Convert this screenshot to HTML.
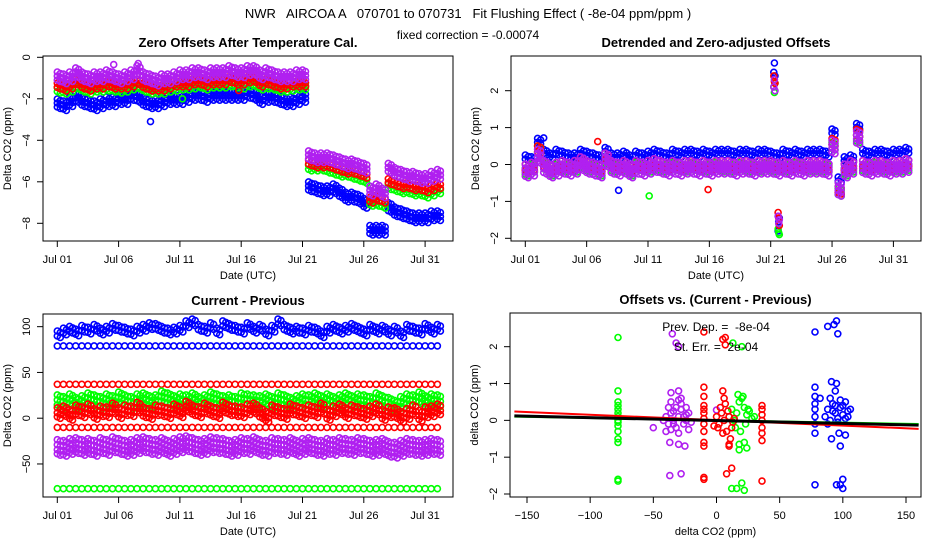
<!DOCTYPE html>
<html><head><meta charset="utf-8"><style>
body{margin:0;background:#fff;}
svg text{font-family:"Liberation Sans",Arial,sans-serif;fill:#000;white-space:pre;}
</style></head><body>
<svg id="chart" width="936" height="540" viewBox="0 0 936 540" xmlns="http://www.w3.org/2000/svg">
<rect width="936" height="540" fill="#fff"/>
<text x="468" y="18" font-size="13" text-anchor="middle" xml:space="preserve">NWR   AIRCOA A   070701 to 070731   Fit Flushing Effect ( -8e-04 ppm/ppm )</text>
<text x="468" y="39" font-size="12" text-anchor="middle">fixed correction = -0.00074</text>
</svg>
<script>
const p1Purple=[-1.0,-1.1,-1.0,-0.8,-1.0,-1.1,-1.0,-1.0,-0.9,-1.0,-1.1,-1.0,-0.9,-0.7,-1.0,-1.1,-1.2,-1.1,-1.1,-1.0,-0.9,-0.9,-0.8,-0.8,-0.9,-0.8,-0.8,-0.8,-0.7,-0.8,-0.8,-0.7,-0.7,-0.9,-0.8,-0.9,-1.0,-1.0,-1.0,-0.9,-0.9,-4.8,-4.9,-4.9,-4.9,-5.0,-5.1,-5.2,-5.2,-5.3,-5.4,-6.5,-6.4,-6.6,-5.4,-5.6,-5.7,-5.8,-5.8,-5.9,-5.9,-5.8,-5.7];
const p1Red=[-1.4,-1.5,-1.4,-1.2,-1.4,-1.5,-1.4,-1.4,-1.3,-1.4,-1.4,-1.4,-1.3,-1.2,-1.4,-1.5,-1.5,-1.5,-1.4,-1.3,-1.3,-1.3,-1.2,-1.2,-1.3,-1.2,-1.2,-1.2,-1.1,-1.2,-1.2,-1.1,-1.1,-1.3,-1.2,-1.3,-1.4,-1.4,-1.3,-1.3,-1.3,-5.1,-5.2,-5.2,-5.2,-5.3,-5.4,-5.5,-5.5,-5.6,-5.7,-6.9,-6.8,-6.9,-6.0,-6.1,-6.2,-6.2,-6.3,-6.3,-6.4,-6.3,-6.2];
const p1Green=[-1.55,-1.6,-1.5,-1.35,-1.5,-1.6,-1.5,-1.5,-1.45,-1.5,-1.55,-1.5,-1.4,-1.35,-1.5,-1.6,-1.6,-1.6,-1.5,-1.45,-1.4,-1.4,-1.35,-1.3,-1.4,-1.3,-1.3,-1.3,-1.25,-1.3,-1.35,-1.25,-1.25,-1.4,-1.35,-1.4,-1.5,-1.5,-1.45,-1.4,-1.4,-5.3,-5.3,-5.3,-5.4,-5.5,-5.6,-5.6,-5.7,-5.8,-5.9,-7.0,-7.0,-7.1,-6.2,-6.3,-6.4,-6.4,-6.5,-6.5,-6.6,-6.5,-6.4];
const p1Blue=[-2.2,-2.3,-2.1,-1.9,-2.1,-2.2,-2.3,-2.2,-2.1,-2.1,-2.0,-2.0,-1.8,-1.9,-2.1,-2.2,-2.2,-2.1,-2.0,-2.0,-2.0,-1.9,-1.8,-1.8,-1.9,-1.8,-1.8,-1.8,-1.8,-1.8,-1.8,-1.7,-1.8,-2.0,-1.9,-1.9,-2.0,-2.1,-2.1,-2.0,-1.9,-6.2,-6.3,-6.4,-6.4,-6.3,-6.5,-6.7,-6.7,-6.8,-7.0,-8.3,-8.3,-8.3,-7.2,-7.4,-7.5,-7.6,-7.7,-7.7,-7.7,-7.6,-7.6];
const p1OutT=[7.6,4.6,6.6,10.2,14.8];
const p1OutV=[-3.1,-0.35,-0.3,-2.0,-1.6];
const p1OutC=["blue","purple","purple","green","red"];
const p2Purple=[-0.1,-0.05,0.3,0.0,-0.1,-0.05,0.0,-0.05,0.0,0.1,0.0,-0.05,-0.1,0.2,0.0,-0.05,0.0,-0.1,0.0,-0.05,0.0,0.05,0.0,-0.05,0.0,-0.05,0.0,0.0,-0.05,0.0,-0.05,0.0,0.0,0.0,-0.05,0.0,0.0,-0.05,0.0,0.0,0.0,-0.05,0.0,-0.05,0.0,-0.05,0.0,0.0,0.0,-0.05,0.55,-0.6,-0.1,0.0,0.8,0.0,-0.05,0.0,0.0,-0.05,0.0,0.0,0.05];
const p2Red=[-0.05,0.0,0.45,0.05,-0.05,0.0,0.05,0.0,0.05,0.15,0.05,0.0,-0.05,0.25,0.05,0.0,0.05,-0.05,0.05,0.0,0.05,0.1,0.05,0.0,0.05,0.0,0.05,0.05,0.0,0.05,0.0,0.05,0.05,0.05,0.0,0.05,0.05,0.0,0.05,0.05,0.05,0.0,0.05,0.0,0.05,0.0,0.05,0.05,0.05,0.0,0.65,-0.65,-0.05,0.05,0.9,0.05,0.0,0.05,0.05,0.0,0.05,0.05,0.1];
const p2Green=[-0.1,0.0,0.5,0.05,-0.1,0.0,0.0,0.0,0.0,0.1,0.0,0.0,-0.1,0.2,0.0,0.0,0.0,-0.1,0.05,0.0,0.0,0.05,0.0,0.0,0.05,0.0,0.0,0.05,0.0,0.0,0.0,0.05,0.0,0.0,0.0,0.05,0.0,0.0,0.0,0.05,0.0,0.0,0.0,0.0,0.05,0.0,0.0,0.0,0.0,0.0,0.6,-0.65,-0.1,0.0,0.8,0.0,0.0,0.05,0.0,0.0,0.0,0.0,0.05];
const p2Blue=[0.15,0.1,0.6,0.3,0.2,0.3,0.25,0.2,0.2,0.3,0.25,0.2,0.15,0.35,0.2,0.2,0.25,0.15,0.25,0.2,0.25,0.3,0.25,0.2,0.3,0.25,0.3,0.3,0.25,0.3,0.25,0.3,0.3,0.3,0.25,0.3,0.3,0.25,0.3,0.3,0.25,0.2,0.3,0.25,0.3,0.25,0.3,0.3,0.3,0.25,0.85,-0.45,0.1,0.15,1.0,0.3,0.25,0.3,0.3,0.25,0.3,0.3,0.35];
const p2SpikeT=[20.25,20.3,20.35,20.6,20.65,20.7];
const p2SpikePurple=[2.1,2.3,2.0,-1.4,-1.6,-1.5];
const p2SpikeRed=[2.4,2.25,2.2,-1.3,-1.45,-1.65];
const p2SpikeGreen=[2.1,1.95,2.2,-1.75,-1.85,-1.9];
const p2SpikeBlue=[2.5,2.75,2.4,-1.8,-1.55,-1.45];
const p2OutT=[7.6,10.1,14.9,5.9,1.5];
const p2OutV=[-0.7,-0.85,-0.68,0.62,0.72];
const p2OutC=["blue","green","red","red","blue"];
const p3BlueHi=[92,95,97,94,98,96,99,95,97,100,98,96,94,97,99,101,100,97,95,96,98,103,105,99,97,101,95,103,100,98,96,101,97,99,94,98,105,99,96,97,95,98,96,92,97,99,96,98,100,97,94,99,96,98,94,97,92,99,97,95,100,96,99];
const p3Green=[20,18,21,17,19,22,20,18,21,19,23,20,18,21,22,19,20,24,22,19,21,20,22,18,20,23,21,19,20,18,22,21,20,19,21,18,22,20,17,19,21,20,22,19,21,18,20,22,19,21,20,18,22,19,17,14,18,21,20,23,19,21,20];
const p3Red=[7,9,5,10,8,11,6,9,8,12,7,10,9,13,8,6,10,9,7,11,8,14,10,8,12,9,7,13,10,9,8,11,12,7,3,10,8,6,11,9,7,10,8,12,5,9,11,7,10,8,6,9,11,5,8,7,3,6,10,4,8,9,11];
const p3Purple=[-30,-31,-29,-28,-30,-29,-31,-28,-30,-27,-29,-31,-30,-28,-27,-29,-30,-28,-31,-29,-27,-26,-28,-30,-29,-27,-28,-29,-31,-30,-28,-29,-27,-30,-31,-28,-29,-30,-28,-31,-29,-28,-30,-31,-29,-30,-28,-29,-30,-28,-29,-31,-30,-29,-32,-33,-31,-29,-30,-31,-30,-29,-30];
const p3RowLevels=[79,37,-10,-77];
const p3RowColors=["blue","red","red","green"];
const p4GreenX=[-78,-78,-78,-78,-78,-78,-78,-78,-78,-78,-78,-78,-78,-78,-78,10,12,14,16,18,20,22,24,26,28,30,15,19,23,17,21,25,13,20,22,18,24,12,16,20,22,18];
const p4GreenY=[-0.6,-0.5,-0.3,-0.15,0,0.1,0.2,0.3,0.4,0.5,0.8,2.25,-1.6,-1.65,-0.05,0.1,0.3,0.0,0.2,0.5,0.6,0.35,0.15,0.25,0.05,0.1,-0.2,-0.3,-0.1,0.7,0.65,0.3,2.1,2.0,-0.6,-0.8,-0.75,-1.85,-1.85,-1.7,-1.9,-0.65];
const p4PurpleX=[-42,-40,-38,-36,-34,-32,-30,-28,-26,-24,-22,-20,-40,-36,-32,-28,-24,-38,-34,-30,-26,-22,-36,-30,-28,-24,-34,-36,-30,-35,-32,-30,-37,-30,-25,-37,-28,-50,0];
const p4PurpleY=[0.0,0.1,-0.1,0.2,0.0,-0.2,0.1,0.3,-0.1,0.0,0.2,-0.05,-0.3,-0.25,0.35,0.45,0.15,0.35,0.25,0.55,0.1,-0.25,0.5,-0.35,0.6,0.35,-0.1,0.75,0.8,2.35,2.1,2.0,-0.6,-0.65,-0.7,-1.5,-1.45,-0.2,0.28];
const p4RedX=[-10,-10,-10,-10,-10,-10,-10,-10,-10,-10,-10,-10,-10,0,2,4,6,8,10,12,14,3,7,11,5,9,13,1,6,10,36,36,36,36,36,36,36,36,5,7,7,12,8,5,10,-2];
const p4RedY=[-0.3,-0.1,0.05,0.2,0.4,0.9,0.65,-0.6,-0.7,-1.55,-1.6,2.4,0.3,0.1,-0.1,0.2,0.0,-0.3,0.1,-0.2,0.05,0.35,0.45,-0.5,-0.35,0.25,-0.05,-0.2,0.6,-0.65,-0.35,-0.2,0.0,0.15,0.3,0.4,-0.55,-1.65,2.2,2.25,2.05,-1.3,-1.45,0.8,-0.7,-0.15];
const p4BlueX=[78,78,78,78,78,78,78,78,78,86,88,90,92,94,96,98,100,102,104,90,94,98,102,88,92,96,100,104,88,93,95,96,91,95,94,97,98,91,102,100,98,95,100,106,82];
const p4BlueY=[-0.1,0.1,0.3,0.45,0.9,0.65,-0.35,-1.75,2.4,0.1,0.3,0.0,0.45,0.2,-0.05,0.35,0.15,0.5,0.25,0.6,0.4,0.55,0.05,-0.1,0.25,0.05,0.4,0.1,2.55,2.6,2.7,2.35,1.05,1.0,0.8,-0.35,-0.7,-0.5,-0.4,-1.6,-1.75,-1.75,-1.85,0.3,0.6];
const p4FitRed=[0.24,-0.23];
const p4FitBlack=[0.12,-0.13];
const p4FitGreen=[0.10,-0.10];
const fitXRange=[-160,160];
const monthTicks=[0,5,10,15,20,25,30];
const monthLabels=["Jul 01","Jul 06","Jul 11","Jul 16","Jul 21","Jul 26","Jul 31"];
</script>
<script>
const svg=document.getElementById('chart');
const NS='http://www.w3.org/2000/svg';
const COL={blue:'#0000ff',red:'#ff0000',green:'#00ff00',purple:'#b020f0'};
function mk(tag,attrs,parent){const e=document.createElementNS(NS,tag);for(const k in attrs)e.setAttribute(k,attrs[k]);(parent||svg).appendChild(e);return e;}
function txt(x,y,s,size,anchor,parent,rot,bold){const t=mk('text',{x:x,y:y,'font-size':size,'text-anchor':anchor||'middle'},parent);if(rot)t.setAttribute('transform','rotate(-90 '+x+' '+y+')');if(bold)t.setAttribute('font-weight','bold');t.textContent=s;return t;}
function circ(g,x,y,c){const e=mk('circle',{cx:x.toFixed(1),cy:y.toFixed(1),r:3,fill:'none',stroke:COL[c],'stroke-width':1.6},g);}
function panel(name,box,title,xl,yl){
  const g=mk('g',{});
  const r=mk('rect',{x:box[0],y:box[1],width:box[2]-box[0],height:box[3]-box[1],fill:'none',stroke:'#000','stroke-width':1},g);
  
  const t=txt((box[0]+box[2])/2,box[1]-9,title,13,'middle',g,false,true);
  const a=txt((box[0]+box[2])/2,box[3]+38,xl,11,'middle',g);
  const b=txt(box[0]-32,(box[1]+box[3])/2,yl,11,'middle',g,true);
  return g;}
function xticks(g,box,vals,labels,sx){vals.forEach((v,i)=>{const x=sx(v);mk('line',{x1:x,x2:x,y1:box[3],y2:box[3]+6,stroke:'#000'},g);const t=txt(x,box[3]+22,labels[i],11,'middle',g);});}
function yticks(g,box,vals,sy){vals.forEach(v=>{const y=sy(v);mk('line',{x1:box[0]-6,x2:box[0],y1:y,y2:y,stroke:'#000'},g);const t=txt(box[0]-13,y,String(v).replace('-','\u2212'),11,'middle',g,true);});}
function band(g,arr,c,sx,sy,dys){arr.forEach((v,i)=>{const x=sx(i*0.5),y=sy(v);dys.forEach(d=>{circ(g,x,y+d,c);circ(g,x+3,y+d+1.5,c);});});}
function pts(g,T,V,C,sx,sy){T.forEach((t,i)=>circ(g,sx(t),sy(V[i]),Array.isArray(C)?C[i]:C));}

const b1=[43,56,453,241];const sx1=d=>57.3+d*12.26,sy1=v=>57.3-v*20.75;
const g1=panel('zero-offsets-panel',b1,'Zero Offsets After Temperature Cal.','Date (UTC)','Delta CO2 (ppm)');
xticks(g1,b1,monthTicks,monthLabels,sx1);yticks(g1,b1,[0,-2,-4,-6,-8],sy1);
band(g1,p1Blue,'blue',sx1,sy1,[-4,0,4]);band(g1,p1Green,'green',sx1,sy1,[-2,2]);band(g1,p1Red,'red',sx1,sy1,[-3,1]);band(g1,p1Purple,'purple',sx1,sy1,[-6,-2,2]);
pts(g1,p1OutT,p1OutV,p1OutC,sx1,sy1);

const b2=[511,56,921,241];const sx2=d=>525.3+d*12.27,sy2=v=>164.5-v*36.9;
const g2=panel('detrended-panel',b2,'Detrended and Zero-adjusted Offsets','Date (UTC)','Delta CO2 (ppm)');
xticks(g2,b2,monthTicks,monthLabels,sx2);yticks(g2,b2,[-2,-1,0,1,2],sy2);
band(g2,p2Blue,'blue',sx2,sy2,[-4,0]);band(g2,p2Green,'green',sx2,sy2,[0,6]);band(g2,p2Red,'red',sx2,sy2,[-2,4]);band(g2,p2Purple,'purple',sx2,sy2,[-4,0,4,8]);
pts(g2,p2SpikeT,p2SpikeBlue,'blue',sx2,sy2);pts(g2,p2SpikeT,p2SpikeGreen,'green',sx2,sy2);
pts(g2,p2SpikeT,p2SpikeRed,'red',sx2,sy2);pts(g2,p2SpikeT,p2SpikePurple,'purple',sx2,sy2);
pts(g2,p2OutT,p2OutV,p2OutC,sx2,sy2);

const b3=[43,314,453,497];const sx3=sx1,sy3=v=>418.2-v*0.9153;
const g3=panel('current-minus-previous-panel',b3,'Current - Previous','Date (UTC)','Delta CO2 (ppm)');
xticks(g3,b3,monthTicks,monthLabels,sx3);yticks(g3,b3,[100,50,0,-50],sy3);
p3RowLevels.forEach((lv,k)=>{for(let d=0;d<=31.2;d+=0.5){circ(g3,sx3(d),sy3(lv),p3RowColors[k]);}});
band(g3,p3BlueHi,'blue',sx3,sy3,[-3,2]);band(g3,p3Green,'green',sx3,sy3,[-5,0,5]);band(g3,p3Red,'red',sx3,sy3,[-4,1,5]);band(g3,p3Purple,'purple',sx3,sy3,[-6,-1,4,8]);

const b4=[510,313,921,497];const sx4=v=>716.5+v*1.2633,sy4=v=>420.35-v*36.83;
const g4=panel('offsets-vs-diff-panel',b4,'Offsets vs. (Current - Previous)','delta CO2 (ppm)','delta CO2 (ppm)');
xticks(g4,b4,[-150,-100,-50,0,50,100,150],['\u2212150','\u2212100','\u221250','0','50','100','150'],sx4);yticks(g4,b4,[-2,-1,0,1,2],sy4);
const clip=mk('clipPath',{id:'c4'});mk('rect',{x:b4[0],y:b4[1],width:b4[2]-b4[0],height:b4[3]-b4[1]},clip);
pts(g4,p4GreenX,p4GreenY,'green',sx4,sy4);pts(g4,p4PurpleX,p4PurpleY,'purple',sx4,sy4);pts(g4,p4RedX,p4RedY,'red',sx4,sy4);pts(g4,p4BlueX,p4BlueY,'blue',sx4,sy4);
[[p4FitGreen,'#00ff00',2,'fit-line-green'],[p4FitRed,'#ff0000',2,'fit-line-red'],[p4FitBlack,'#000',3,'fit-line-overall']].forEach(f=>{
 const l=mk('line',{x1:sx4(fitXRange[0]),y1:sy4(f[0][0]),x2:sx4(fitXRange[1]),y2:sy4(f[0][1]),stroke:f[1],'stroke-width':f[2],'clip-path':'url(#c4)'},g4);
 
 });
const s1=txt(716,331,'Prev. Dep. =  -8e-04',12,'middle',g4);
const s2=txt(716,351,'St. Err. =  2e-04',12,'middle',g4);
</script>
</body></html>
